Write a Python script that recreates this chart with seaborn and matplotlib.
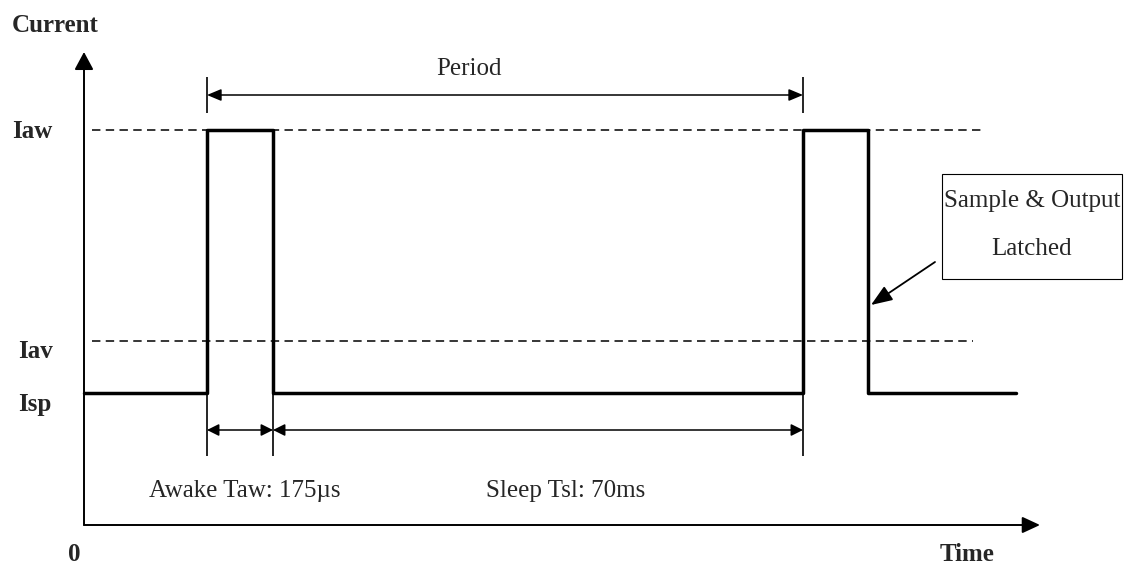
import numpy as np
import pandas as pd
import matplotlib
matplotlib.use('Agg')
import matplotlib.pyplot as plt
import seaborn as sns
from matplotlib.patches import Rectangle

# Diagram units: time to the right from the origin, current upward from the time axis
level_names = ['Iaw', 'Iav', 'Isp']
level_values = [395, 184, 132]

# waveform corners (steps-post)
edge_times = [0, 123, 189, 719, 784, 932]
edge_levels = [132, 395, 132, 395, 132, 132]

interval_labels = ['Awake Taw: 175µs', 'Sleep Tsl: 70ms']
interval_bounds = [(123, 189), (189, 719)]
period_bounds = (123, 719)

box_lines = ['Sample & Output', 'Latched']

sns.set_theme(style='white')
plt.rcParams['font.family'] = ['Liberation Serif', 'DejaVu Serif']

fig = plt.figure(figsize=(11.32, 5.69), dpi=100)
ax = fig.add_axes([0, 0, 1, 1])
ax.set_xlim(-84, 1048)
ax.set_ylim(-44, 525)
ax.axis('off')

FS = 18


def arrow(p0, p1, style, lw=1.2):
    ax.annotate('', xy=p1, xytext=p0,
                arrowprops=dict(arrowstyle=style, color='black', lw=lw,
                                shrinkA=0, shrinkB=0, mutation_scale=1))


# axes with arrows
arrow((0, 0), (0, 473), '-|>,head_length=10.8,head_width=5.8', lw=1.4)
arrow((0, 0), (956, 0), '-|>,head_length=10.8,head_width=5.0', lw=1.4)

# dashed reference levels
ax.hlines(level_values[0], 8, 898, colors='black', lw=1.1, linestyles=(0, (5.5, 3.5)))
ax.hlines(level_values[1], 8, 889, colors='black', lw=1.1, linestyles=(0, (5.5, 3.5)))

# waveform
wave = pd.DataFrame({'t': edge_times, 'i': edge_levels})
sns.lineplot(data=wave, x='t', y='i', estimator=None, sort=False,
             drawstyle='steps-post', color='black', lw=2.5, ax=ax)
ax.axis('off')

# period marker
ax.vlines(list(period_bounds), 412, 448, colors='black', lw=1.2)
arrow((period_bounds[0], 430), (period_bounds[1], 430),
      '<|-|>,head_length=8.6,head_width=3.6', lw=1.1)
ax.text(352, 450, 'Period', fontsize=FS, ha='left', va='baseline')

# awake / sleep intervals
ticks = sorted({b for pair in interval_bounds for b in pair})
ax.vlines(ticks, 69, level_values[2], colors='black', lw=1.2)
for (a, b) in interval_bounds:
    arrow((a, 95), (b, 95), '<|-|>,head_length=7.2,head_width=3.6', lw=1.1)
ax.text(65, 28, interval_labels[0], fontsize=FS, ha='left', va='baseline')
ax.text(402, 28, interval_labels[1], fontsize=FS, ha='left', va='baseline')

# sample box
ax.add_patch(Rectangle((858, 246), 180, 105, fill=False, ec='black', lw=0.8))
ax.text(948, 318, box_lines[0], fontsize=FS, ha='center', va='baseline')
ax.text(948, 270, box_lines[1], fontsize=FS, ha='center', va='baseline')
arrow((851, 263), (787, 220), '-|>,head_length=13,head_width=5', lw=1.3)

# labels
ax.text(-72, 493, 'Current', fontsize=FS, fontweight='bold', ha='left', va='baseline')
ax.text(-72, 387, level_names[0], fontsize=FS, fontweight='bold', ha='left', va='baseline')
ax.text(-66, 167, level_names[1], fontsize=FS, fontweight='bold', ha='left', va='baseline')
ax.text(-66, 114, level_names[2], fontsize=FS, fontweight='bold', ha='left', va='baseline')
ax.text(-16, -36, '0', fontsize=FS, fontweight='bold', ha='left', va='baseline')
ax.text(856, -36, 'Time', fontsize=FS, fontweight='bold', ha='left', va='baseline')

fig.savefig('out.png', dpi=100, facecolor='white')
